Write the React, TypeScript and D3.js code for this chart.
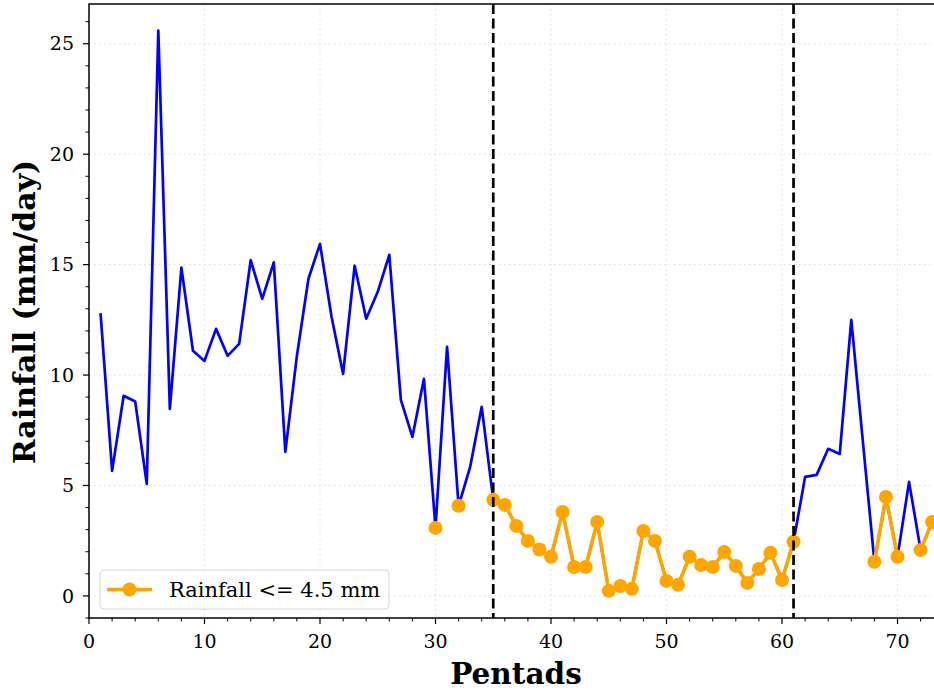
import React from "react";
import * as d3 from "d3";

// pentad rainfall (mm/day)
const pentads = d3.range(1, 74);
const rainfall = [
  12.8, 5.66, 9.06, 8.8, 5.07, 25.6, 8.47, 14.86, 11.1, 10.64,
  12.09, 10.87, 11.41, 15.2, 13.45, 15.1, 6.52, 10.87, 14.36, 15.94,
  12.64, 10.05, 14.95, 12.55, 13.77, 15.44, 8.88, 7.2, 9.83, 3.08,
  11.28, 4.08, 5.84, 8.56, 4.35, 4.12, 3.17, 2.49, 2.1, 1.77,
  3.8, 1.31, 1.31, 3.35, 0.23, 0.45, 0.32, 2.94, 2.49, 0.68,
  0.5, 1.77, 1.4, 1.31, 1.99, 1.36, 0.59, 1.22, 1.95, 0.72,
  2.45, 5.39, 5.48, 6.66, 6.43, 12.5, 7.0, 1.55, 4.48, 1.77,
  5.16, 2.08, 3.35,
];
const threshold = 4.5;
const onsetLines = [35, 61];
const xTicks = [0, 10, 20, 30, 40, 50, 60, 70];
const yTicks = [0, 5, 10, 15, 20, 25];

const W = 934;
const H = 690;
const left = 89;
const top = 4;
const bottom = 618;

const font = "'DejaVu Serif', serif";

export default function App() {
  const x = d3.scaleLinear().domain([0, 74]).range([left, left + 11.55 * 74]);
  const y = d3.scaleLinear().domain([-1, 26.8]).range([bottom, top]);

  const data = pentads.map((p, i) => ({ p, v: rainfall[i] }));

  const blueLine = d3
    .line<{ p: number; v: number }>()
    .x((d) => x(d.p))
    .y((d) => y(d.v));

  const orangeLine = d3
    .line<{ p: number; v: number }>()
    .defined((d) => d.v <= threshold)
    .x((d) => x(d.p))
    .y((d) => y(d.v));

  const low = data.filter((d) => d.v <= threshold);
  const xMinor = d3.range(0, 75, 2).filter((t) => t % 10 !== 0);
  const yMinor = d3.range(-1, 27, 1).filter((t) => t % 5 !== 0);
  const right = W + 20;

  return (
    <svg
      width={W}
      height={H}
      style={{ position: "absolute", left: 0, top: 0, background: "#fff" }}
      fontFamily={font}
    >
      <defs>
        <clipPath id="plot">
          <rect x={left} y={top} width={right - left} height={bottom - top} />
        </clipPath>
      </defs>

      {/* grid */}
      <g stroke="#dcdcdc" strokeWidth={1} strokeDasharray="1.5,3.5">
        {xTicks.slice(1).map((t) => (
          <line key={"gx" + t} x1={x(t)} x2={x(t)} y1={top} y2={bottom} />
        ))}
        {yTicks.map((t) => (
          <line key={"gy" + t} x1={left} x2={right} y1={y(t)} y2={y(t)} />
        ))}
      </g>

      <g clipPath="url(#plot)">
        <path d={blueLine(data) ?? ""} fill="none" stroke="#0000ff" strokeWidth={2.7} strokeLinejoin="round" />
        <path d={orangeLine(data) ?? ""} fill="none" stroke="#ffa500" strokeWidth={3.6} strokeLinejoin="round" />
        {low.map((d) => (
          <circle key={d.p} cx={x(d.p)} cy={y(d.v)} r={7} fill="#ffa500" />
        ))}
        {onsetLines.map((p) => (
          <line
            key={"v" + p}
            x1={x(p)}
            x2={x(p)}
            y1={top}
            y2={bottom}
            stroke="#000"
            strokeWidth={2.7}
            strokeDasharray="10,4.5"
          />
        ))}
      </g>

      {/* spines */}
      <rect x={left} y={top} width={right - left} height={bottom - top} fill="none" stroke="#000" strokeWidth={1.5} />

      {/* ticks */}
      <g stroke="#000" strokeWidth={1.2}>
        {xTicks.map((t) => (
          <line key={"xt" + t} x1={x(t)} x2={x(t)} y1={bottom} y2={bottom + 6} />
        ))}
        {xMinor.map((t) => (
          <line key={"xm" + t} x1={x(t)} x2={x(t)} y1={bottom} y2={bottom + 3.5} strokeWidth={1} />
        ))}
        {yTicks.map((t) => (
          <line key={"yt" + t} x1={left - 6} x2={left} y1={y(t)} y2={y(t)} />
        ))}
        {yMinor.map((t) => (
          <line key={"ym" + t} x1={left - 3.5} x2={left} y1={y(t)} y2={y(t)} strokeWidth={1} />
        ))}
      </g>

      <g fontSize={19} fill="#000">
        {xTicks.map((t) => (
          <text key={"xl" + t} x={x(t)} y={648} textAnchor="middle">
            {t}
          </text>
        ))}
        {yTicks.map((t) => (
          <text key={"yl" + t} x={74} y={y(t)} dy="0.35em" textAnchor="end">
            {t}
          </text>
        ))}
      </g>

      <text x={516} y={684} textAnchor="middle" fontSize={29.5} fontWeight="bold">
        Pentads
      </text>
      <text
        transform={`translate(35,${(top + bottom) / 2 + 1}) rotate(-90)`}
        textAnchor="middle"
        fontSize={30}
        fontWeight="bold"
      >
        Rainfall (mm/day)
      </text>

      {/* legend */}
      <g>
        <rect x={100} y={570} width={289} height={39} rx={4} fill="#fff" fillOpacity={0.8} stroke="#d6d6d6" strokeWidth={1} />
        <line x1={107} x2={152} y1={589.5} y2={589.5} stroke="#ffa500" strokeWidth={3.6} />
        <circle cx={129.5} cy={589.5} r={7} fill="#ffa500" />
        <text x={169} y={589.5} dy="0.35em" fontSize={21} fill="#000">
          Rainfall &lt;= 4.5 mm
        </text>
      </g>
    </svg>
  );
}
